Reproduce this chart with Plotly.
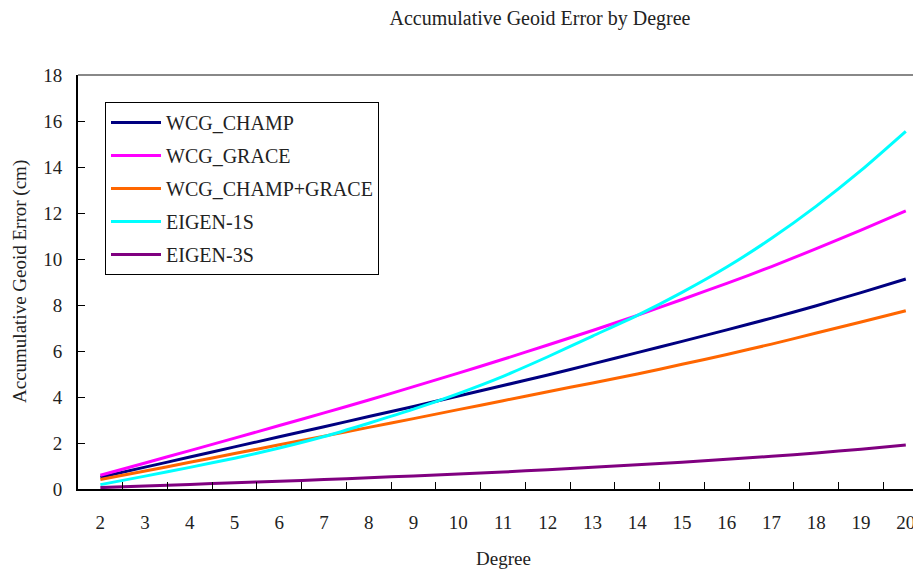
import plotly.graph_objects as go

degrees = [str(d) for d in range(2, 21)]

wcg_champ = [0.51, 0.95, 1.39, 1.83, 2.27, 2.71, 3.15, 3.59, 4.04, 4.50,
             4.96, 5.44, 5.93, 6.42, 6.92, 7.43, 7.97, 8.54, 9.13]
wcg_grace = [0.60, 1.13, 1.67, 2.21, 2.76, 3.31, 3.87, 4.45, 5.04, 5.64,
             6.26, 6.89, 7.55, 8.24, 8.94, 9.67, 10.45, 11.26, 12.09]
wcg_champ_grace = [0.41, 0.78, 1.16, 1.54, 1.92, 2.30, 2.68, 3.06, 3.45, 3.84,
                   4.23, 4.61, 5.00, 5.42, 5.85, 6.30, 6.78, 7.26, 7.75]
eigen_1s = [0.19, 0.56, 0.94, 1.34, 1.78, 2.28, 2.86, 3.47, 4.15, 4.90,
            5.75, 6.65, 7.55, 8.55, 9.65, 10.90, 12.30, 13.85, 15.55]
eigen_3s = [0.06, 0.13, 0.20, 0.27, 0.34, 0.41, 0.49, 0.57, 0.65, 0.74,
            0.84, 0.95, 1.05, 1.16, 1.29, 1.42, 1.57, 1.73, 1.91]

series = [
    ("WCG_CHAMP", wcg_champ, "#000080"),
    ("WCG_GRACE", wcg_grace, "#FF00FF"),
    ("WCG_CHAMP+GRACE", wcg_champ_grace, "#FF6600"),
    ("EIGEN-1S", eigen_1s, "#00FFFF"),
    ("EIGEN-3S", eigen_3s, "#800080"),
]

FONT = "Liberation Serif, Times New Roman, serif"
OFF = 8  # page body margin offset
W, H = 921 - OFF, 572 - OFF
L, T = 78 - OFF, 75 - OFF
B = H - (489 - OFF)
PW, PH = W - L, (489 - OFF) - T

fig = go.Figure()
for i, (name, vals, color) in enumerate(series):
    fig.add_trace(go.Scatter(
        x=degrees, y=vals, name=name, mode="lines",
        line=dict(color=color, width=3, shape="spline", smoothing=0.6),
        legendgroup=f"g{i}",
    ))

fig.update_layout(
    width=W, height=H,
    margin=dict(l=L, r=0, t=T, b=B, pad=0),
    paper_bgcolor="white", plot_bgcolor="white",
    font=dict(family=FONT, color="#222222"),
    showlegend=True,
    legend=dict(
        x=(105 - 78) / PW, y=(489 - 102) / PH, xanchor="left", yanchor="top",
        bordercolor="black", borderwidth=1, bgcolor="white",
        font=dict(family=FONT, size=20, color="#222222"),
        tracegroupgap=4, itemwidth=50,
    ),
    title=dict(
        text="Accumulative Geoid Error by Degree",
        x=(540 - OFF) / W, xref="container", xanchor="center",
        y=1 - (18 - OFF) / H, yref="container", yanchor="middle",
        font=dict(family=FONT, size=20, color="#222222"),
    ),
    xaxis=dict(
        type="category", range=[-0.5, 18.34],
        showline=True, linecolor="black", linewidth=2,
        ticks="inside", tickson="boundaries", ticklen=7, tickcolor="black", tickwidth=1,
        tickfont=dict(family=FONT, size=19, color="#222222"),
        ticklabelstandoff=15,
        showgrid=False, zeroline=False,
    ),
    yaxis=dict(
        range=[0, 18], dtick=2, tick0=0,
        showline=True, linecolor="black", linewidth=2,
        ticks="inside", ticklen=7, tickcolor="black", tickwidth=1,
        tickfont=dict(family=FONT, size=19, color="#222222"),
        ticklabelstandoff=10,
        showgrid=False, zeroline=False,
    ),
    annotations=[
        dict(text="Accumulative Geoid Error (cm)", textangle=-90,
             xref="paper", yref="paper", x=(20 - 78) / PW, y=0.5,
             xanchor="center", yanchor="middle", showarrow=False,
             font=dict(family=FONT, size=19, color="#222222")),
        dict(text="Degree",
             xref="paper", yref="paper", x=(503 - 78) / PW, y=(489 - 558) / PH,
             xanchor="center", yanchor="middle", showarrow=False,
             font=dict(family=FONT, size=19, color="#222222")),
    ],
    shapes=[
        dict(type="line", xref="paper", yref="paper", x0=0, x1=1, y0=1, y1=1,
             line=dict(color="#888888", width=2)),
    ],
)

fig.write_html("out.html")
